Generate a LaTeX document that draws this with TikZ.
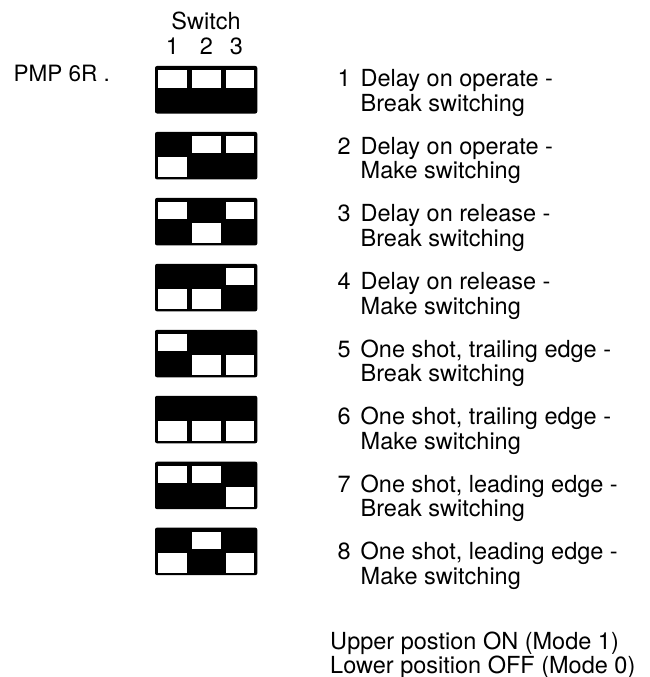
\documentclass[tikz,border=0pt]{standalone}
\usepackage{fontspec}
\setmainfont{TeX Gyre Heros}
\begin{document}
\begin{tikzpicture}[x=1pt,y=-1pt,
  lbl/.style={inner sep=0pt, anchor=base west, font=\fontsize{23.5}{24.5}\selectfont},
  blockbody/.style={fill=black, rounded corners=2pt},
  cellwhite/.style={fill=white}]
\useasboundingbox (0,0) rectangle (650,677);
% header
\node[lbl, anchor=base] (sw) at (206,30) {Switch};
\node[lbl, anchor=base] (c1) at (172.5,55) {1};
\node[lbl, anchor=base] (c2) at (206.5,55) {2};
\node[lbl, anchor=base] (c3) at (236.5,55) {3};
\node[lbl, font=\fontsize{22.5}{24}\selectfont] (pmp) at (13.5,81.7) {PMP 6R .};
% switch blocks: 0 = upper cell white, 1 = lower cell white
\foreach \k/\sa/\sb/\sc in {0/0/0/0, 1/1/0/0, 2/0/1/0, 3/1/1/0, 4/0/1/1, 5/1/1/1, 6/0/0/1, 7/1/0/1}{
  \pgfmathsetmacro\yo{66+65.95*\k}
  \fill[blockbody] (155,\yo) rectangle (257.3,\yo+47.5);
  \foreach \i/\s in {0/\sa, 1/\sb, 2/\sc}{
    \fill[cellwhite] (158+33.8*\i, \yo+4+21.5*\s) rectangle (187+33.5*\i, \yo+21.5+23.5*\s);
  }
}
% descriptions
\foreach \k/\ta/\tb in {1/{Delay on operate -}/{Break switching},
                        2/{Delay on operate -}/{Make switching},
                        3/{Delay on release -}/{Break switching},
                        4/{Delay on release -}/{Make switching},
                        5/{One shot, trailing edge -}/{Break switching},
                        6/{One shot, trailing edge -}/{Make switching},
                        7/{One shot, leading edge -}/{Break switching},
                        8/{One shot, leading edge -}/{Make switching}}{
  \pgfmathsetmacro\ty{86.7+67.6*(\k-1)}
  \node[lbl] (num\k) at (337.5,\ty) {\k};
  \node[lbl] (la\k) at (360.5,\ty) {\ta};
  \node[lbl] (lb\k) at (360.5,\ty+24.5) {\tb};
}
% legend
\node[lbl] (up) at (330,649) {Upper postion ON (Mode 1)};
\node[lbl] (lo) at (330,673) {Lower position OFF (Mode 0)};
\end{tikzpicture}
\end{document}
